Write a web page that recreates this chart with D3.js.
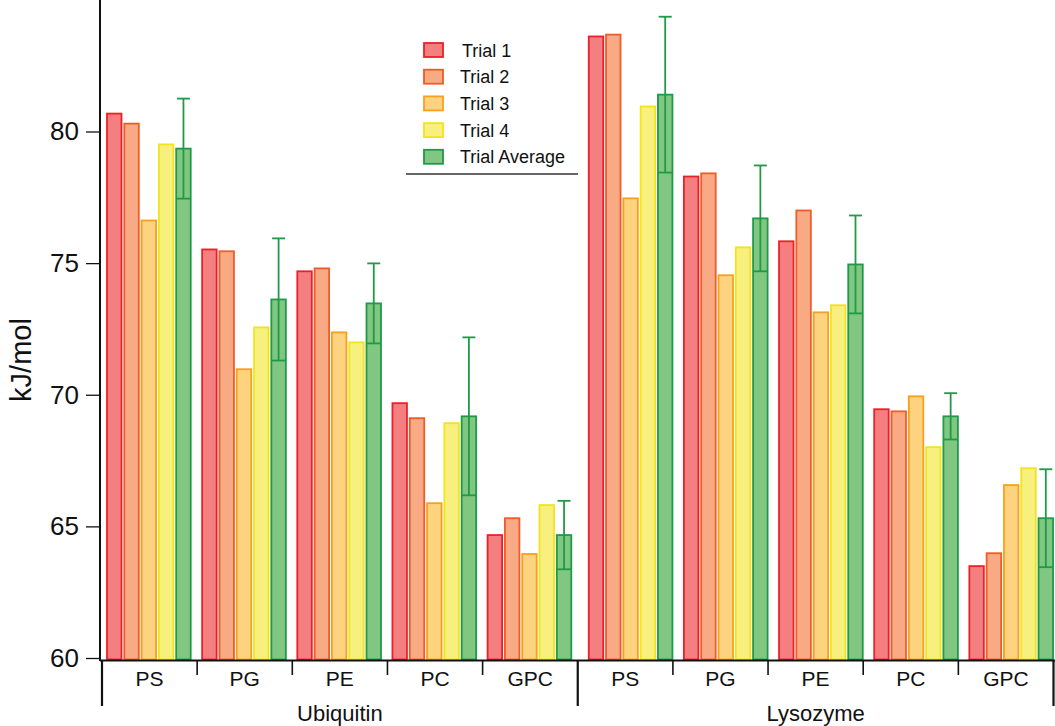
<!DOCTYPE html>
<html><head><meta charset="utf-8">
<script src="https://cdn.jsdelivr.net/npm/d3@7"></script>
<style>
body{margin:0;background:#fff;}
svg{display:block;}
text{font-family:"Liberation Sans",Arial,Helvetica,sans-serif;fill:#111;}
</style>
</head><body><svg id="c" width="1055" height="726"></svg>
<script>
// ---- data ----
const groups = ["Ubiquitin", "Lysozyme"];
const categories = ["PS", "PG", "PE", "PC", "GPC"];
const series = ["Trial 1", "Trial 2", "Trial 3", "Trial 4", "Trial Average"];
// values ordered: Ubiquitin PS..GPC, then Lysozyme PS..GPC
const trial1 = [80.68, 75.52, 74.69, 69.68, 64.67, 83.61, 78.29, 75.83, 69.45, 63.49];
const trial2 = [80.30, 75.45, 74.80, 69.11, 65.31, 83.68, 78.41, 77.00, 69.37, 63.98];
const trial3 = [76.62, 70.97, 72.37, 65.88, 63.95, 77.46, 74.54, 73.13, 69.94, 66.57];
const trial4 = [79.51, 72.56, 71.99, 68.92, 65.81, 80.95, 75.60, 73.40, 68.01, 67.21];
const trialAvg = [79.35, 73.62, 73.47, 69.18, 64.67, 81.40, 76.70, 74.95, 69.18, 65.31];
const avgErr = [1.90, 2.32, 1.52, 3.00, 1.30, 2.96, 2.01, 1.86, 0.88, 1.86];
const yTicks = [60, 65, 70, 75, 80];
const yLabel = "kJ/mol";

const seriesValues = [trial1, trial2, trial3, trial4, trialAvg];
const fills = ["#F47F80", "#F8AA84", "#FED380", "#F7F07E", "#82C781"];
const strokes = ["#ED2027", "#F15A29", "#F8A01E", "#F2E41C", "#1E9A48"];

// ---- scales ----
const svg = d3.select("#c");
const y = d3.scaleLinear().domain([60, 80]).range([658, 131.5]);
const xGroup = d3.scaleBand().domain(groups).range([102, 1053.5]);
const xCat = d3.scaleBand().domain(categories).range([0, xGroup.bandwidth()]);
const xSeries = d3.scaleBand().domain(series).range([0, 83.7]).paddingInner(0.162);
const groupShift = { "Ubiquitin": 5, "Lysozyme": 11 };

const rows = [];
groups.forEach((g, gi) => categories.forEach((c, ci) => series.forEach((s, si) => {
  rows.push({ g, c, s, si, v: seriesValues[si][gi * categories.length + ci], k: gi * categories.length + ci });
})));
const barX = d => xGroup(d.g) + xCat(d.c) + groupShift[d.g] + xSeries(d.s);

// ---- bars ----
svg.append("g").selectAll("rect").data(rows).join("rect")
  .attr("x", barX)
  .attr("y", d => y(d.v))
  .attr("width", xSeries.bandwidth())
  .attr("height", d => y(60) + 1.5 - y(d.v))
  .attr("fill", d => fills[d.si])
  .attr("stroke", d => strokes[d.si])
  .attr("stroke-width", 1.8);

// ---- error bars ----
const errRows = rows.filter(d => d.si === 4);
const eg = svg.append("g").attr("stroke", strokes[4]).attr("stroke-width", 1.8).attr("fill", "none");
errRows.forEach(d => {
  const cx = barX(d) + xSeries.bandwidth() / 2;
  const hi = y(d.v + avgErr[d.k]), lo = y(d.v - avgErr[d.k]);
  eg.append("line").attr("x1", cx).attr("x2", cx).attr("y1", hi).attr("y2", lo);
  eg.append("line").attr("x1", cx - 6.5).attr("x2", cx + 6.5).attr("y1", hi).attr("y2", hi);
  eg.append("line").attr("x1", barX(d)).attr("x2", barX(d) + xSeries.bandwidth()).attr("y1", lo).attr("y2", lo);
});

// ---- y axis ----
const yAxis = svg.append("g").attr("transform", "translate(100,0)")
  .call(d3.axisLeft(y).tickValues(yTicks).tickSize(14).tickPadding(7).tickFormat(d3.format("d")));
yAxis.select(".domain").remove();
yAxis.selectAll(".tick line").attr("stroke", "#111").attr("stroke-width", 1.3);
yAxis.selectAll("text").attr("font-size", 26).attr("fill", "#111");
svg.append("line").attr("x1", 100).attr("x2", 100).attr("y1", 0).attr("y2", 661)
  .attr("stroke", "#111").attr("stroke-width", 2);

svg.append("text").attr("transform", "translate(31,360) rotate(-90)")
  .attr("text-anchor", "middle").attr("font-size", 29).text(yLabel);

// ---- x axis ----
const axY = 660.5;
svg.append("line").attr("x1", 100).attr("x2", 1055).attr("y1", axY).attr("y2", axY)
  .attr("stroke", "#111").attr("stroke-width", 2);
const xa = svg.append("g");
groups.forEach((g, gi) => {
  const gx = xGroup(g);
  categories.forEach((c, ci) => {
    const cx0 = gx + xCat(c);
    if (ci > 0) {
      xa.append("line").attr("x1", cx0).attr("x2", cx0).attr("y1", axY).attr("y2", 675)
        .attr("stroke", "#111").attr("stroke-width", 1.6);
    }
    xa.append("text").attr("x", cx0 + xCat.bandwidth() / 2).attr("y", 686)
      .attr("text-anchor", "middle").attr("font-size", 21).text(c);
  });
  xa.append("text").attr("x", gx + xGroup.bandwidth() / 2).attr("y", 721)
    .attr("text-anchor", "middle").attr("font-size", 22).text(g);
});
[xGroup.range()[0], xGroup(groups[1]), xGroup.range()[1]].forEach(xx => {
  xa.append("line").attr("x1", xx).attr("x2", xx).attr("y1", axY).attr("y2", 706)
    .attr("stroke", "#111").attr("stroke-width", 2.2);
});

// ---- legend ----
const lg = svg.append("g");
series.forEach((s, i) => {
  const cy = 50 + i * 26.7;
  lg.append("rect").attr("x", 424).attr("y", cy - 7).attr("width", 19).attr("height", 14)
    .attr("fill", fills[i]).attr("stroke", strokes[i]).attr("stroke-width", 1.8);
  lg.append("text").attr("x", i === 0 ? 462 : 460).attr("y", cy + 6.5).attr("font-size", 18).text(s);
});
lg.append("line").attr("x1", 406).attr("x2", 578).attr("y1", 174).attr("y2", 174)
  .attr("stroke", "#333").attr("stroke-width", 1.5);
</script>
</body></html>
